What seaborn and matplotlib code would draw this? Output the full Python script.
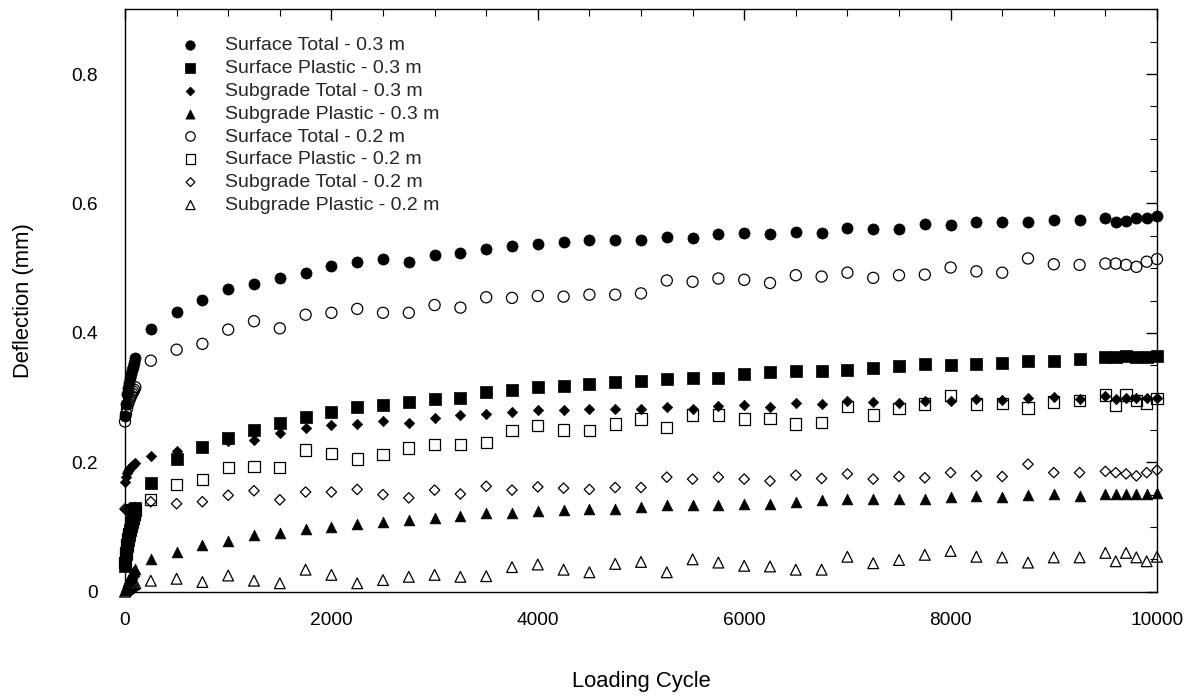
import matplotlib
matplotlib.use("Agg")
import matplotlib.pyplot as plt
import seaborn as sns
import pandas as pd
from matplotlib.ticker import MultipleLocator

# ---------------- data ----------------
cycles = [0, 10, 20, 30, 40, 50, 60, 70, 80, 90, 100,
          250, 500, 750, 1000, 1250, 1500,
          1750, 2000, 2250, 2500, 2750, 3000, 3250, 3500, 3750, 4000, 4250, 4500,
          4750, 5000, 5250, 5500, 5750, 6000,
          6250, 6500, 6750, 7000, 7250, 7500, 7750, 8000, 8250, 8500, 8750, 9000,
          9250, 9500,
          9600, 9700, 9800, 9900, 10000]

surface_total_03 = [0.272, 0.290, 0.305, 0.315, 0.322, 0.330, 0.336, 0.342, 0.348, 0.354, 0.361,
                    0.406, 0.433, 0.451, 0.468, 0.475, 0.485,
                    0.493, 0.504, 0.509, 0.514, 0.509, 0.520, 0.523, 0.530, 0.534, 0.538, 0.541, 0.543,
                    0.544, 0.543, 0.548, 0.546, 0.552, 0.554,
                    0.552, 0.556, 0.555, 0.562, 0.561, 0.561, 0.568, 0.567, 0.571, 0.571, 0.571, 0.575,
                    0.575, 0.577,
                    0.571, 0.573, 0.577, 0.577, 0.580]

surface_plastic_03 = [0.040, 0.058, 0.070, 0.080, 0.088, 0.095, 0.102, 0.108, 0.115, 0.122, 0.130,
                      0.168, 0.205, 0.224, 0.237, 0.250, 0.261,
                      0.270, 0.277, 0.285, 0.289, 0.293, 0.298, 0.300, 0.309, 0.311, 0.316, 0.318, 0.321,
                      0.324, 0.326, 0.329, 0.330, 0.331, 0.337,
                      0.339, 0.341, 0.341, 0.343, 0.346, 0.349, 0.352, 0.350, 0.352, 0.354, 0.357, 0.357,
                      0.359, 0.363,
                      0.363, 0.364, 0.363, 0.363, 0.365]

subgrade_total_03 = [0.170, 0.178, 0.183, 0.186, 0.189, 0.191, 0.193, 0.195, 0.196, 0.197, 0.199,
                     0.210, 0.217, 0.222, 0.233, 0.235, 0.246,
                     0.253, 0.258, 0.259, 0.264, 0.261, 0.268, 0.273, 0.275, 0.277, 0.281, 0.281, 0.283,
                     0.283, 0.282, 0.286, 0.282, 0.287, 0.289,
                     0.286, 0.291, 0.290, 0.294, 0.293, 0.291, 0.295, 0.294, 0.298, 0.296, 0.299, 0.301,
                     0.298, 0.302,
                     0.298, 0.300, 0.300, 0.300, 0.300]

subgrade_plastic_03 = [0.002, 0.008, 0.012, 0.016, 0.019, 0.022, 0.025, 0.028, 0.030, 0.032, 0.035,
                       0.050, 0.062, 0.072, 0.079, 0.088, 0.090,
                       0.097, 0.100, 0.105, 0.108, 0.111, 0.114, 0.117, 0.121, 0.122, 0.125, 0.127, 0.128,
                       0.128, 0.131, 0.134, 0.134, 0.134, 0.136,
                       0.136, 0.138, 0.142, 0.143, 0.143, 0.143, 0.143, 0.147, 0.148, 0.147, 0.149, 0.151,
                       0.148, 0.151,
                       0.151, 0.151, 0.151, 0.151, 0.153]

surface_total_02 = [0.263, 0.275, 0.283, 0.290, 0.295, 0.299, 0.303, 0.306, 0.309, 0.312, 0.316,
                    0.357, 0.374, 0.383, 0.405, 0.418, 0.407,
                    0.428, 0.431, 0.437, 0.431, 0.431, 0.443, 0.439, 0.455, 0.454, 0.457, 0.456, 0.459,
                    0.459, 0.461, 0.481, 0.479, 0.484, 0.482,
                    0.477, 0.489, 0.487, 0.493, 0.485, 0.489, 0.490, 0.501, 0.495, 0.493, 0.515, 0.506,
                    0.505, 0.507,
                    0.507, 0.505, 0.502, 0.510, 0.514]

surface_plastic_02 = [0.045, 0.060, 0.072, 0.082, 0.090, 0.097, 0.103, 0.109, 0.114, 0.120, 0.125,
                      0.142, 0.166, 0.173, 0.192, 0.194, 0.192,
                      0.219, 0.214, 0.205, 0.212, 0.222, 0.228, 0.228, 0.231, 0.249, 0.257, 0.250, 0.249,
                      0.259, 0.267, 0.254, 0.273, 0.273, 0.267,
                      0.268, 0.259, 0.261, 0.286, 0.273, 0.283, 0.290, 0.303, 0.290, 0.291, 0.284, 0.293,
                      0.296, 0.304,
                      0.288, 0.304, 0.295, 0.291, 0.299]

subgrade_total_02 = [0.128, 0.127, 0.126, 0.127, 0.128, 0.127, 0.128, 0.129, 0.128, 0.129, 0.130,
                     0.139, 0.136, 0.139, 0.149, 0.156, 0.142,
                     0.154, 0.154, 0.158, 0.150, 0.145, 0.157, 0.151, 0.163, 0.157, 0.162, 0.160, 0.158,
                     0.161, 0.161, 0.177, 0.174, 0.177, 0.174,
                     0.171, 0.180, 0.175, 0.182, 0.174, 0.178, 0.176, 0.184, 0.179, 0.178, 0.197, 0.184,
                     0.184, 0.186,
                     0.184, 0.182, 0.179, 0.184, 0.188]

subgrade_plastic_02 = [0.000, 0.002, 0.004, 0.005, 0.006, 0.008, 0.009, 0.010, 0.011, 0.012, 0.013,
                       0.017, 0.020, 0.015, 0.025, 0.017, 0.013,
                       0.034, 0.026, 0.013, 0.018, 0.023, 0.026, 0.023, 0.024, 0.038, 0.042, 0.034, 0.030,
                       0.043, 0.046, 0.030, 0.050, 0.045, 0.040,
                       0.039, 0.034, 0.034, 0.054, 0.044, 0.049, 0.057, 0.063, 0.054, 0.053, 0.045, 0.053,
                       0.053, 0.060,
                       0.047, 0.060, 0.053, 0.047, 0.054]

series_labels = ["Surface Total - 0.3 m", "Surface Plastic - 0.3 m",
                 "Subgrade Total - 0.3 m", "Subgrade Plastic - 0.3 m",
                 "Surface Total - 0.2 m", "Surface Plastic - 0.2 m",
                 "Subgrade Total - 0.2 m", "Subgrade Plastic - 0.2 m"]
series_values = [surface_total_03, surface_plastic_03, subgrade_total_03, subgrade_plastic_03,
                 surface_total_02, surface_plastic_02, subgrade_total_02, subgrade_plastic_02]

x_ticks = [0, 2000, 4000, 6000, 8000, 10000]
x_tick_labels = ["0", "2000", "4000", "6000", "8000", "10000"]
y_ticks = [0, 0.2, 0.4, 0.6, 0.8]
y_tick_labels = ["0", "0.2", "0.4", "0.6", "0.8"]

# ---------------- styles ----------------
markers = ["o", "s", "D", "^", "o", "s", "D", "^"]
filled = [True, True, True, True, False, False, False, False]
sizes = [64, 66, 28, 60, 64, 66, 28, 60]

sns.set_theme(style="white")
plt.rcParams["font.family"] = ["Liberation Sans", "DejaVu Sans"]

fig = plt.figure(figsize=(11.96, 6.96), dpi=100)
ax = fig.add_axes([125 / 1196, 1 - 591.7 / 696, 1032 / 1196, 582.4 / 696])

for lab, vals, mk, fl, sz in zip(series_labels, series_values, markers, filled, sizes):
    df = pd.DataFrame({"cycle": cycles, "deflection": vals})
    sns.scatterplot(data=df, x="cycle", y="deflection", ax=ax, marker=mk, s=sz,
                    color="black", facecolor="black" if fl else "none",
                    edgecolor="black", linewidth=0.5 if fl else 0.9,
                    label=lab, clip_on=False, zorder=3)

ax.set_xlim(0, 10000)
ax.set_ylim(0, 0.9)
ax.set_xticks(x_ticks)
ax.set_xticklabels(x_tick_labels)
ax.set_yticks(y_ticks)
ax.set_yticklabels(y_tick_labels)
ax.xaxis.set_minor_locator(MultipleLocator(500))
ax.yaxis.set_minor_locator(MultipleLocator(0.05))
ax.tick_params(which="both", direction="in", top=True, right=True, color="black",
               labelsize=13.8, labelcolor="black")
ax.tick_params(which="major", length=8, width=1.0)
ax.tick_params(which="minor", length=5, width=0.8)
ax.tick_params(axis="x", which="major", pad=14.5)
ax.tick_params(axis="y", which="major", pad=19.5)
for sp in ax.spines.values():
    sp.set_color("black")
    sp.set_linewidth(1.0)
    sp.set_visible(True)

ax.set_xlabel("Loading Cycle", fontsize=15.8, labelpad=30, color="black")
ax.set_ylabel("Deflection (mm)", fontsize=15.8, labelpad=27, color="black")

ax.legend(loc="upper left", bbox_to_anchor=(0.0465, 0.9667), frameon=False,
          fontsize=14, markerscale=0.85, handlelength=1.0, handletextpad=1.25,
          labelspacing=0.27, borderaxespad=0, borderpad=0.4)

ax.set_facecolor("white")
fig.patch.set_facecolor("white")
fig.savefig("out.png", dpi=100)
